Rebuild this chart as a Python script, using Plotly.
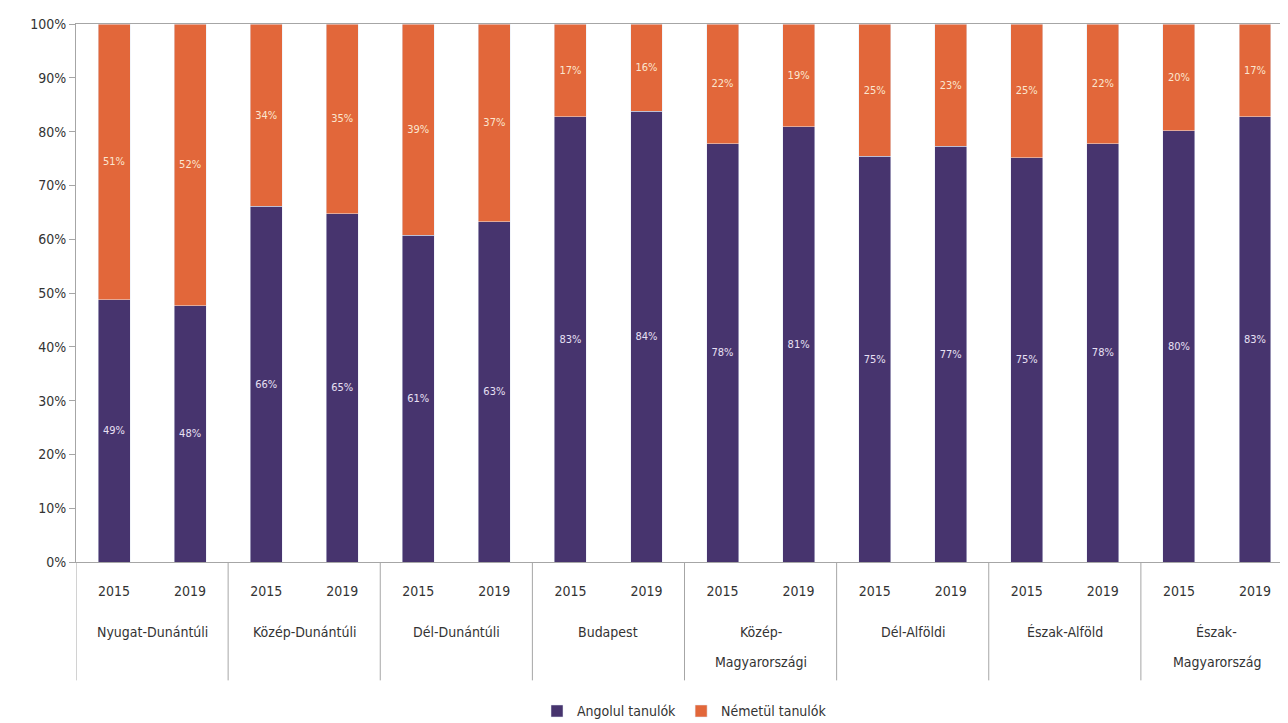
import plotly.graph_objects as go

regions = [
    "Nyugat-Dunántúli", "Közép-Dunántúli", "Dél-Dunántúli", "Budapest",
    "Közép-<br>Magyarországi", "Dél-Alföldi", "Észak-Alföld", "Észak-<br>Magyarország",
]
years = ["2015", "2019"]

# share of students, per region, 2015 then 2019
angol = [48.7, 47.6, 66.1, 64.7, 60.7, 63.2, 82.8, 83.8,
         77.7, 80.9, 75.4, 77.3, 75.1, 77.7, 80.2, 82.8]
nemet = [51.3, 52.4, 33.9, 35.3, 39.3, 36.8, 17.2, 16.2,
         22.3, 19.1, 24.6, 22.7, 24.9, 22.3, 19.8, 17.2]

cats = [f"{r}|{y}" for r in regions for y in years]
year_labels = [y for _ in regions for y in years]

font = "DejaVu Sans Condensed, Arial Narrow, sans-serif"
axis_grey = "#a6a6a6"

fig = go.Figure()
fig.add_trace(go.Bar(
    x=cats, y=angol, name="Angolul tanulók",
    marker={"color": "#47346e"},
    texttemplate="%{y:.0f}%", textposition="inside", insidetextanchor="middle",
    textfont={"color": "#e8e0f4", "size": 11, "family": font},
    textangle=0,
))
fig.add_trace(go.Bar(
    x=cats, y=nemet, name="Németül tanulók",
    marker={"color": "#e2673a"},
    texttemplate="%{y:.0f}%", textposition="inside", insidetextanchor="middle",
    textfont={"color": "#fbe6cf", "size": 11, "family": font},
    textangle=0,
))

# region names under each pair of years, with Excel-like wide line spacing
for i, name in enumerate(regions):
    for j, line in enumerate(name.split("<br>")):
        fig.add_annotation(
            x=2 * i + 0.5, y=0, xref="x", yref="paper",
            text=line, showarrow=False, yanchor="middle",
            yshift=-70 - 30 * j, font={"size": 14, "color": "#333333"},
        )

# group dividers
for k in range(len(regions) + 1):
    fig.add_shape(
        type="line", xref="x", yref="paper",
        x0=2 * k - 0.5, x1=2 * k - 0.5, y0=0, y1=-0.22,
        line={"color": axis_grey, "width": 1},
    )

fig.update_layout(
    barmode="stack",
    bargap=0.58,
    width=1288, height=723,
    margin={"l": 68, "r": 3, "t": 16, "b": 169},
    paper_bgcolor="white",
    plot_bgcolor="white",
    font={"family": font, "size": 14, "color": "#333333"},
    uniformtext={"minsize": 8, "mode": "show"},
    legend={"orientation": "h", "x": 0.5, "xanchor": "center", "y": 0.005,
            "yanchor": "bottom", "yref": "container", "traceorder": "normal",
            "font": {"size": 14}},
    xaxis={
        "type": "category", "tickvals": cats, "ticktext": year_labels,
        "range": [-0.5, len(cats) - 0.5],
        "showline": True, "linecolor": axis_grey, "mirror": True,
        "showgrid": False, "tickfont": {"size": 14}, "ticklabelstandoff": 16,
    },
    yaxis={
        "range": [0, 100], "dtick": 10, "ticksuffix": "%", "showgrid": False,
        "showline": True, "linecolor": axis_grey, "ticks": "outside",
        "ticklen": 6, "tickcolor": axis_grey, "tickfont": {"size": 14},
        "zeroline": False,
    },
)

fig.write_html("out.html")
